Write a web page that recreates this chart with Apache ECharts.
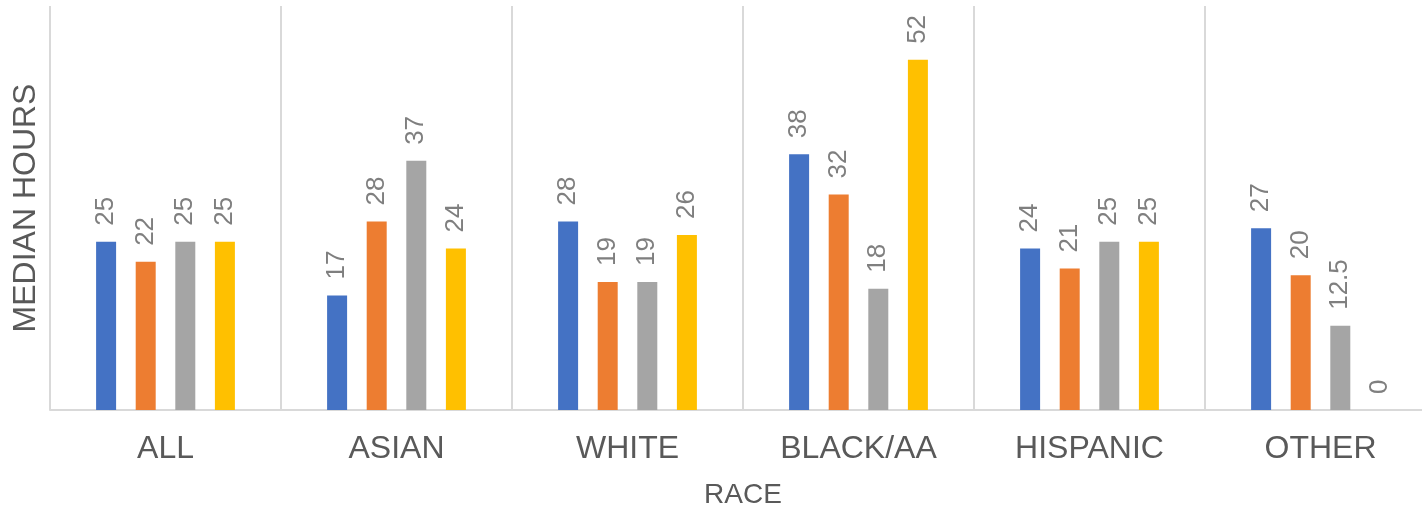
<!DOCTYPE html>
<html>
<head>
<meta charset="utf-8">
<script src="https://cdn.jsdelivr.net/npm/echarts@6/dist/echarts.min.js"></script>
<style>
  html, body { margin: 0; padding: 0; background: #ffffff; }
  #chart { width: 1422px; height: 509px; }
</style>
</head>
<body>
<div id="chart"></div>
<script>
// Race groups along the horizontal axis
const categories = ['ALL', 'ASIAN', 'WHITE', 'BLACK/AA', 'HISPANIC', 'OTHER'];

// Median hours, one array per group of bars
const series1 = [25, 17, 28, 38, 24, 27];
const series2 = [22, 28, 19, 32, 21, 20];
const series3 = [25, 37, 19, 18, 25, 12.5];
const series4 = [25, 24, 26, 52, 25, 0];

const seriesNames = ['Series 1', 'Series 2', 'Series 3', 'Series 4'];
const seriesValues = [series1, series2, series3, series4];
const colors = ['#4472C4', '#ED7D31', '#A5A5A5', '#FFC000'];

const FONT = '"Liberation Sans", Arial, sans-serif';

const chart = echarts.init(document.getElementById('chart'), null, { renderer: 'canvas' });

chart.setOption({
  animation: false,
  backgroundColor: '#ffffff',
  // the last category runs a little past the right edge of the canvas
  grid: {
    left: 50, top: 6, width: 1386, height: 404,
    containLabel: false,
    outerBoundsMode: 'none'
  },
  xAxis: {
    type: 'category',
    data: categories,
    name: 'RACE',
    nameLocation: 'middle',
    nameGap: 71,
    nameTextStyle: { color: '#595959', fontSize: 28, fontFamily: FONT },
    axisLine: { show: true, lineStyle: { color: '#d9d9d9', width: 2 } },
    axisTick: { show: false },
    axisLabel: { color: '#595959', fontSize: 32, fontFamily: FONT, margin: 23 },
    splitLine: { show: true, lineStyle: { color: '#d9d9d9', width: 2 } }
  },
  yAxis: {
    type: 'value',
    min: 0,
    max: 60,
    name: 'MEDIAN HOURS',
    nameLocation: 'middle',
    nameGap: 8,
    nameRotate: 90,
    nameTextStyle: { color: '#595959', fontSize: 32, fontFamily: FONT },
    axisLine: { show: false },
    axisTick: { show: false },
    axisLabel: { show: false },
    splitLine: { show: false }
  },
  series: seriesValues.map((vals, i) => ({
    name: seriesNames[i],
    type: 'bar',
    data: vals,
    barWidth: 20,
    barGap: '98%',
    barCategoryGap: '40%',
    itemStyle: { color: colors[i] },
    label: {
      show: true,
      position: 'top',
      rotate: 90,
      align: 'left',
      verticalAlign: 'middle',
      distance: 16,
      color: '#7f7f7f',
      fontSize: 26,
      fontFamily: FONT
    }
  }))
});
</script>
</body>
</html>
